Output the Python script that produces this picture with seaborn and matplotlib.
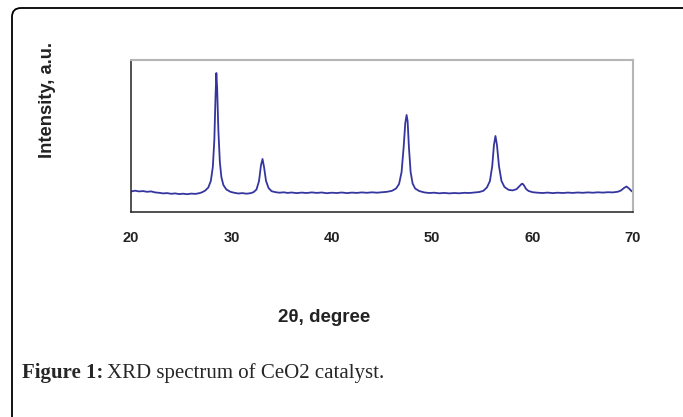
import matplotlib
matplotlib.use("Agg")
import matplotlib.pyplot as plt
from matplotlib.patches import FancyBboxPatch
from matplotlib.transforms import IdentityTransform
import seaborn as sns

# 2theta (degree) and intensity (a.u.)
two_theta = [20.0, 20.4, 20.8, 21.2, 21.6, 22.0, 22.4, 22.8, 23.2, 23.6,
             24.0, 24.4, 24.8, 25.2, 25.6, 26.0, 26.4, 26.8, 27.1, 27.4,
             27.7, 27.95, 28.15, 28.3, 28.42, 28.5, 28.58, 28.7, 28.85, 29.0,
             29.2, 29.5, 29.9, 30.3, 30.7, 31.1, 31.5, 31.9, 32.2, 32.5,
             32.75, 32.95, 33.1, 33.25, 33.45, 33.7, 34.0, 34.4, 34.8, 35.2,
             35.6, 36.0, 36.5, 37.0, 37.5, 38.0, 38.5, 39.0, 39.5, 40.0,
             40.5, 41.0, 41.5, 42.0, 42.5, 43.0, 43.5, 44.0, 44.5, 45.0,
             45.5, 46.0, 46.4, 46.7, 46.95, 47.15, 47.32, 47.45, 47.55, 47.68,
             47.85, 48.05, 48.3, 48.7, 49.2, 49.7, 50.2, 50.7, 51.2, 51.7,
             52.2, 52.7, 53.2, 53.7, 54.2, 54.7, 55.1, 55.45, 55.75, 55.98,
             56.15, 56.3, 56.45, 56.65, 56.9, 57.2, 57.6, 58.0, 58.4, 58.7,
             58.9, 59.0, 59.15, 59.35, 59.6, 60.0, 60.5, 61.0, 61.5, 62.0,
             62.5, 63.0, 63.5, 64.0, 64.5, 65.0, 65.5, 66.0, 66.5, 67.0,
             67.5, 68.0, 68.5, 68.8, 69.1, 69.35, 69.6, 69.85, 70.0]
intensity = [20.5, 21.3, 20.6, 20.9, 20.2, 20.6, 19.6, 19.2, 18.6, 18.9,
             18.2, 18.6, 17.9, 18.3, 17.8, 18.4, 18.1, 18.8, 19.8, 21.5,
             24.5, 31.0, 45.0, 72.0, 116.0, 139.0, 124.0, 82.0, 50.0, 35.0,
             27.0, 22.5, 20.2, 19.2, 18.5, 18.9, 18.3, 18.8, 19.8, 22.5,
             31.0, 47.0, 53.0, 45.0, 31.0, 24.0, 20.8, 19.8, 19.3, 19.7,
             19.1, 19.5, 18.9, 19.4, 19.0, 19.6, 19.1, 19.5, 18.8, 19.3,
             19.0, 19.5, 18.9, 19.4, 19.1, 19.6, 19.2, 19.7, 19.3, 19.8,
             20.2, 21.2, 23.5, 28.0, 40.0, 64.0, 89.0, 97.0, 91.0, 65.0,
             40.0, 28.5, 23.5, 21.0, 19.6, 19.0, 19.3, 18.7, 19.1, 18.6,
             19.0, 18.7, 19.2, 19.0, 19.5, 20.0, 21.2, 24.5, 31.0, 46.0,
             67.0, 76.0, 67.0, 46.0, 31.0, 25.0, 22.2, 21.6, 22.8, 26.0,
             28.0, 28.3, 26.5, 23.0, 21.0, 19.8, 19.3, 19.0, 19.4, 18.9,
             19.3, 19.0, 19.4, 19.1, 19.5, 19.2, 19.6, 19.3, 19.7, 19.4,
             19.8, 19.6, 20.3, 21.5, 24.0, 25.5, 23.5, 21.0, 20.0]

x_ticks = [20, 30, 40, 50, 60, 70]

sns.set_style("white")
plt.rcParams["font.family"] = ["Liberation Sans", "DejaVu Sans"]

fig = plt.figure(figsize=(6.83, 4.17), dpi=100)
ax = fig.add_axes([131 / 683, 1 - 212 / 417, 502 / 683, 152 / 417])

sns.lineplot(x=two_theta, y=intensity, ax=ax, color="#3535a0", linewidth=1.3)

ax.set_xlim(20, 70)
ax.set_ylim(0, 152)
ax.set_xticks(x_ticks)
ax.set_yticks([])
ax.tick_params(axis="x", direction="out", length=4, width=1.1, color="#222222",
               labelsize=10.5, pad=10)
for lab in ax.get_xticklabels():
    lab.set_fontweight("bold")
    lab.set_color("#222222")
for side in ["left", "bottom"]:
    ax.spines[side].set_color("#222222")
    ax.spines[side].set_linewidth(1.1)
for side in ["top", "right"]:
    ax.spines[side].set_color("#b5b5b5")
    ax.spines[side].set_linewidth(1.5)
ax.set_xlabel("")
ax.set_ylabel("")

fig.text(48 / 683, 1 - 100 / 417, "Intensity, a.u.", rotation=90, ha="center", va="center",
         fontsize=13.2, fontweight="bold", color="#222222")
fig.text(324 / 683, 1 - 318 / 417, "2θ, degree", ha="center", va="center",
         fontsize=13.5, fontweight="bold", color="#222222")

cap = fig.text(22 / 683, 1 - 373 / 417, "Figure 1:", ha="left", va="center",
               fontsize=15, fontweight="bold", family="Liberation Serif")
fig.canvas.draw()
bb = cap.get_window_extent()
fig.text(bb.x1 / 683 + 4 / 683, 1 - 373 / 417, "XRD spectrum of CeO2 catalyst.", ha="left",
         va="center", fontsize=15, family="Liberation Serif")

border = FancyBboxPatch((12, -30), 720, 409 + 30, boxstyle="round,pad=0,rounding_size=9",
                        transform=IdentityTransform(), fill=False, edgecolor="black",
                        linewidth=1.3)
fig.patches.append(border)

fig.savefig("out.png", dpi=100)
